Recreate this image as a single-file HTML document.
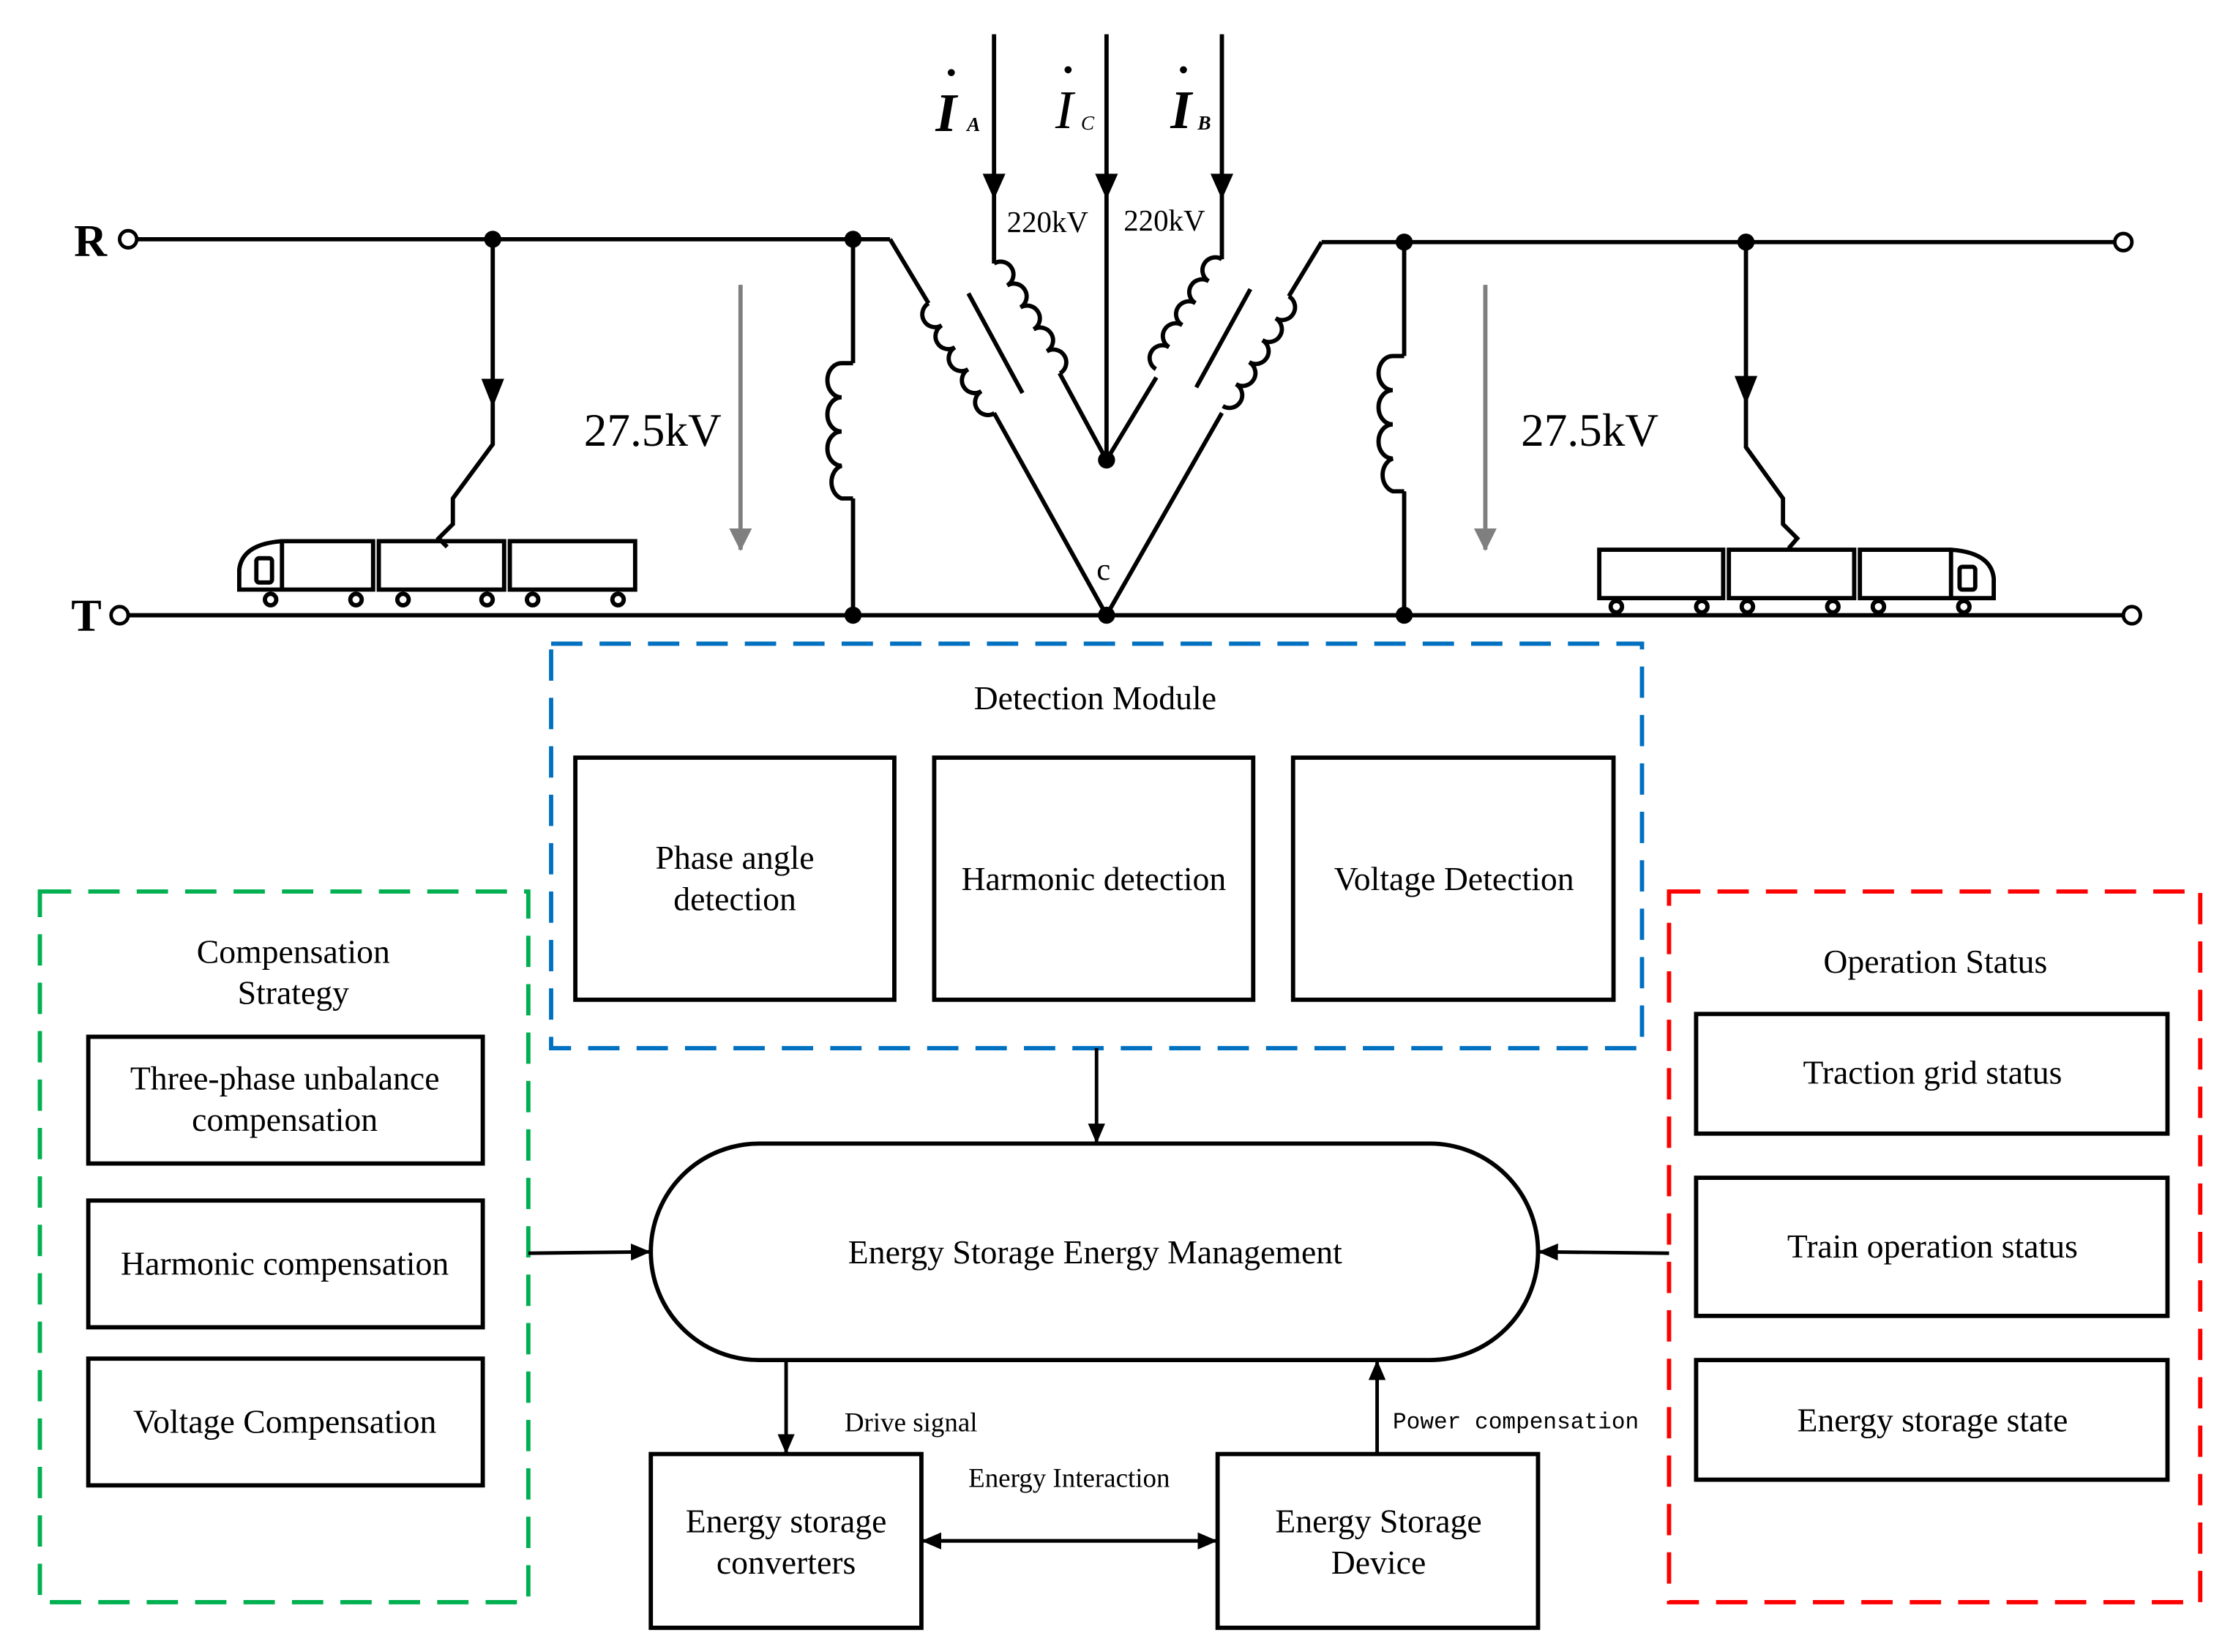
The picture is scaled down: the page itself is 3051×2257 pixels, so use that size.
<!DOCTYPE html>
<html><head><meta charset="utf-8"><style>
html,body{margin:0;padding:0;background:#fff}
svg{display:block}
text{font-family:"Liberation Serif",serif;fill:#000}
</style></head><body>
<svg width="3051" height="2257" viewBox="0 0 1568 1160" preserveAspectRatio="none" xmlns="http://www.w3.org/2000/svg">
<defs>
<marker id="ah2" markerWidth="14" markerHeight="12" refX="13" refY="6" orient="auto" markerUnits="userSpaceOnUse"><path d="M0,0 L14,6 L0,12 z" fill="#000"/></marker>
<marker id="ga" markerWidth="16" markerHeight="16" refX="15" refY="8" orient="auto" markerUnits="userSpaceOnUse"><path d="M0,0 L16,8 L0,16 z" fill="#7f7f7f"/></marker>
</defs>
<g stroke="#000" stroke-width="3" fill="none">
<line x1="96" y1="168" x2="625" y2="168"/>
<line x1="928" y1="170" x2="1485" y2="170"/>
<line x1="90" y1="432" x2="1491" y2="432"/>
<circle cx="90" cy="168" r="6" stroke-width="2.5"/>
<circle cx="84" cy="432" r="6" stroke-width="2.5"/>
<circle cx="1491" cy="170" r="6" stroke-width="2.5"/>
<circle cx="1497" cy="432" r="6" stroke-width="2.5"/>
<path d="M599,168 V255 M599,350 V432"/>
<path d="M599,255 h-8 a10,12 0 0 0 0,24 a10,12 0 0 0 0,24 a10,12 0 0 0 0,24 a10,12 0 0 0 0,23 h8"/>
<path d="M986,170 V250 M986,345 V432"/>
<path d="M986,250 h-8 a10,12 0 0 0 0,24 a10,12 0 0 0 0,24 a10,12 0 0 0 0,24 a10,12 0 0 0 0,23 h8"/>
<path d="M625,168 L652,213"/>
<g transform="translate(652,213) rotate(59)"><path d="M0,0 a8,8 0 0 0 18,0 a8,8 0 0 0 18,0 a8,8 0 0 0 18,0 a8,8 0 0 0 18,0 a8,8 0 0 0 18,0"/></g>
<path d="M698,290 L777,432 L858,290"/>
<g transform="translate(905,208) rotate(121)"><path d="M0,0 a8,8 0 0 1 18,0 a8,8 0 0 1 18,0 a8,8 0 0 1 18,0 a8,8 0 0 1 18,0 a8,8 0 0 1 18,0"/></g>
<path d="M928,170 L905,208"/>
<path d="M698,24 V185"/>
<g transform="translate(698,185) rotate(59)"><path d="M0,0 a8,8 0 0 1 18,0 a8,8 0 0 1 18,0 a8,8 0 0 1 18,0 a8,8 0 0 1 18,0 a8,8 0 0 1 18,0"/></g>
<path d="M744,262 L777,323 L812,265"/>
<path d="M858,24 V182"/>
<g transform="translate(858,182) rotate(121)"><path d="M0,0 a8,8 0 0 0 18,0 a8,8 0 0 0 18,0 a8,8 0 0 0 18,0 a8,8 0 0 0 18,0 a8,8 0 0 0 18,0"/></g>
<path d="M777,24 V323"/>
<line x1="680" y1="206" x2="718" y2="276"/>
<line x1="878" y1="203" x2="840" y2="272"/>
<path d="M346,168 V312 L318,350 V368 L308,378 L314,384"/>
<path d="M1226,170 V314 L1252,350 V368 L1262,378 L1256,385"/>
<path d="M168,414 V400 Q170,382 198,380 H262 V414 Z"/>
<line x1="198" y1="380" x2="198" y2="414"/>
<rect x="180" y="392" width="11" height="17" rx="2"/>
<rect x="266" y="380" width="88" height="34"/>
<rect x="358" y="380" width="88" height="34"/>
<rect x="1123" y="386" width="87" height="34"/>
<rect x="1214" y="386" width="88" height="34"/>
<path d="M1306,386 H1370 Q1398,388 1400,406 V420 H1306 Z"/>
<line x1="1370" y1="386" x2="1370" y2="420"/>
<rect x="1376" y="398" width="11" height="16" rx="2"/>
</g>
<g fill="#fff" stroke="#000" stroke-width="3">
<circle cx="190" cy="421" r="4"/><circle cx="250" cy="421" r="4"/><circle cx="283" cy="421" r="4"/><circle cx="342" cy="421" r="4"/><circle cx="374" cy="421" r="4"/><circle cx="434" cy="421" r="4"/>
<circle cx="1135" cy="426" r="4"/><circle cx="1195" cy="426" r="4"/><circle cx="1227" cy="426" r="4"/><circle cx="1287" cy="426" r="4"/><circle cx="1319" cy="426" r="4"/><circle cx="1379" cy="426" r="4"/>
</g>
<g fill="#000">
<path d="M338,266 L354,266 L346,286 z"/>
<path d="M1218,264 L1234,264 L1226,284 z"/>
<path d="M690,122 L706,122 L698,140 z"/>
<path d="M769,122 L785,122 L777,140 z"/>
<path d="M850,122 L866,122 L858,140 z"/>
<circle cx="346" cy="168" r="6"/><circle cx="599" cy="168" r="6"/><circle cx="599" cy="432" r="6"/>
<circle cx="777" cy="432" r="6"/><circle cx="777" cy="323" r="6"/>
<circle cx="986" cy="170" r="6"/><circle cx="986" cy="432" r="6"/><circle cx="1226" cy="170" r="6"/>
</g>
<line x1="520" y1="200" x2="520" y2="386" stroke="#7f7f7f" stroke-width="3" marker-end="url(#ga)"/>
<line x1="1043" y1="200" x2="1043" y2="386" stroke="#7f7f7f" stroke-width="3" marker-end="url(#ga)"/>
<text x="52" y="180" font-size="32" font-weight="bold">R</text>
<text x="50" y="443" font-size="32" font-weight="bold">T</text>
<text x="410" y="313" font-size="32.5">27.5kV</text>
<text x="1068" y="313" font-size="32.5">27.5kV</text>
<text x="707" y="163" font-size="21">220kV</text>
<text x="789" y="162" font-size="21">220kV</text>
<text x="770" y="407" font-size="22">c</text>
<g font-style="italic" font-weight="bold">
<text x="657" y="92" font-size="38">I</text><text x="679" y="92" font-size="14">A</text>
<text x="741" y="90" font-size="38" font-weight="normal">I</text><text x="759" y="91" font-size="14" font-weight="normal">C</text>
<text x="822" y="90" font-size="38">I</text><text x="841" y="91" font-size="14">B</text>
</g>
<g fill="#000"><circle cx="668" cy="51" r="2.5"/><circle cx="750" cy="49" r="2.5"/><circle cx="831" cy="49" r="2.5"/></g>
<rect x="387" y="452" width="766" height="284" fill="none" stroke="#0070C0" stroke-width="3" stroke-dasharray="22,12"/>
<rect x="28" y="626" width="343" height="499" fill="none" stroke="#00B050" stroke-width="3" stroke-dasharray="22,12"/>
<rect x="1172" y="626" width="373" height="499" fill="none" stroke="#FF0000" stroke-width="3" stroke-dasharray="22,12"/>
<g fill="none" stroke="#000" stroke-width="3">
<rect x="404" y="532" width="224" height="170"/>
<rect x="656" y="532" width="224" height="170"/>
<rect x="908" y="532" width="225" height="170"/>
<rect x="62" y="728" width="277" height="89"/>
<rect x="62" y="843" width="277" height="89"/>
<rect x="62" y="954" width="277" height="89"/>
<rect x="1191" y="712" width="331" height="84"/>
<rect x="1191" y="827" width="331" height="97"/>
<rect x="1191" y="955" width="331" height="84"/>
<rect x="457" y="803" width="623" height="152" rx="76" ry="76"/>
<rect x="457" y="1021" width="190" height="122"/>
<rect x="855" y="1021" width="225" height="122"/>
</g>
<g stroke="#000" stroke-width="2.5" fill="none">
<line x1="770" y1="736" x2="770" y2="802" marker-end="url(#ah2)"/>
<line x1="371" y1="880" x2="456" y2="879" marker-end="url(#ah2)"/>
<line x1="1172" y1="880" x2="1081" y2="879" marker-end="url(#ah2)"/>
<line x1="552" y1="955" x2="552" y2="1020" marker-end="url(#ah2)"/>
<line x1="967" y1="1021" x2="967" y2="956" marker-end="url(#ah2)"/>
<line x1="660" y1="1082" x2="854" y2="1082" marker-end="url(#ah2)"/>
<line x1="840" y1="1082" x2="648" y2="1082" marker-end="url(#ah2)"/>
</g>
<g font-size="23.5" text-anchor="middle">
<text x="769" y="498">Detection Module</text>
<text x="516" y="610">Phase angle</text><text x="516" y="639">detection</text>
<text x="768" y="625">Harmonic detection</text>
<text x="1021" y="625">Voltage Detection</text>
<text x="206" y="676">Compensation</text><text x="206" y="705">Strategy</text>
<text x="200" y="765">Three-phase unbalance</text><text x="200" y="794">compensation</text>
<text x="200" y="895">Harmonic compensation</text>
<text x="200" y="1006">Voltage Compensation</text>
<text x="1359" y="683">Operation Status</text>
<text x="1357" y="761">Traction grid status</text>
<text x="1357" y="883">Train operation status</text>
<text x="1357" y="1005">Energy storage state</text>
<text x="769" y="887">Energy Storage Energy Management</text>
<text x="552" y="1076">Energy storage</text><text x="552" y="1105">converters</text>
<text x="968" y="1076">Energy Storage</text><text x="968" y="1105">Device</text>
</g>
<text x="593" y="1005" font-size="19">Drive signal</text>
<text x="680" y="1044" font-size="19">Energy Interaction</text>
<text x="978" y="1003" font-size="16" style="font-family:'Liberation Mono',monospace">Power compensation</text>
</svg>
</body></html>
